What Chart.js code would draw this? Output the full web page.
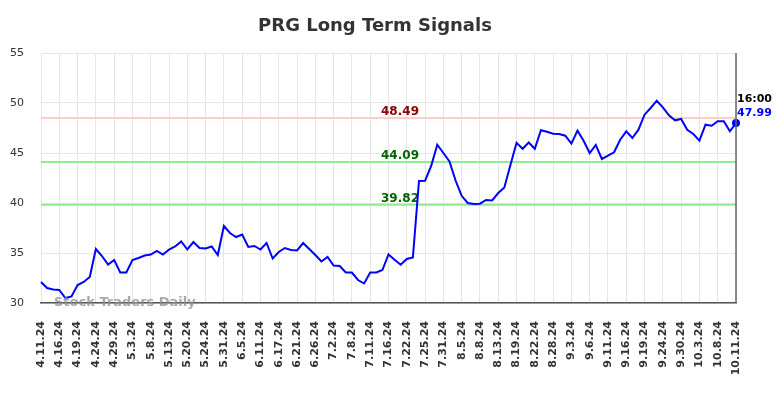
<!DOCTYPE html>
<html>
<head>
<meta charset="utf-8">
<script src="https://cdn.jsdelivr.net/npm/chart.js@4.4.1/dist/chart.umd.min.js"></script>
<style>
	html, body { margin: 0; padding: 0; background: #fff; }
	#chart { display: block; }
</style>
</head>
<body>
<canvas id="chart" width="784" height="398"></canvas>
<script>
// axis labels, one every 3 points
const tickLabels = [
	"4.11.24", "4.16.24", "4.19.24", "4.24.24", "4.29.24", "5.3.24", "5.8.24",
	"5.13.24", "5.20.24", "5.24.24", "5.31.24", "6.5.24", "6.11.24", "6.17.24",
	"6.21.24", "6.26.24", "7.2.24", "7.8.24", "7.11.24", "7.16.24", "7.22.24",
	"7.25.24", "7.31.24", "8.5.24", "8.8.24", "8.13.24", "8.19.24", "8.22.24",
	"8.28.24", "9.3.24", "9.6.24", "9.11.24", "9.16.24", "9.19.24", "9.24.24",
	"9.30.24", "10.3.24", "10.8.24", "10.11.24"
];

const prices = [
	32.1, 31.5, 31.35, 31.3, 30.5, 30.65, 31.8, 32.1, 32.6, 35.4,
	34.7, 33.85, 34.3, 33.05, 33.05, 34.3, 34.5, 34.75, 34.85, 35.2,
	34.85, 35.35, 35.65, 36.15, 35.35, 36.1, 35.5, 35.45, 35.65, 34.8,
	37.7, 37.0, 36.6, 36.85, 35.6, 35.7, 35.35, 36.0, 34.45, 35.1,
	35.5, 35.3, 35.25, 36.0, 35.4, 34.8, 34.15, 34.6, 33.75, 33.7,
	33.05, 33.05, 32.3, 31.95, 33.05, 33.05, 33.3, 34.85, 34.33, 33.83,
	34.4, 34.55, 42.2, 42.23, 43.7, 45.83, 45.0, 44.15, 42.25, 40.72,
	40.0, 39.9, 39.93, 40.3, 40.25, 41.0, 41.55, 43.8, 46.02, 45.42,
	46.05, 45.42, 47.27, 47.13, 46.93, 46.9, 46.73, 45.93, 47.23, 46.23,
	45.0, 45.8, 44.4, 44.73, 45.07, 46.33, 47.17, 46.5, 47.33, 48.83,
	49.5, 50.23, 49.57, 48.77, 48.27, 48.4, 47.33, 46.9, 46.23, 47.83,
	47.73, 48.17, 48.17, 47.17, 47.99
];

const levels = [48.49, 44.09, 39.82];
const lastTime = "16:00";

const levelLineColors = ["#ffcccc", "#90ee90", "#90ee90"];
const levelTextColors = ["#8b0000", "#006400", "#006400"];
const step = 3;
const font = "DejaVu Sans";

const labels = prices.map(function(v, i) {
	return i % step === 0 ? tickLabels[i / step] : "";
});
const last = prices.length - 1;

const extras = {
	id: "extras",
	beforeDatasetsDraw: function(chart) {
		const ctx = chart.ctx;
		const a = chart.chartArea;
		const y = chart.scales.y;
		ctx.save();
		for (var i = 0; i < levels.length; i++) {
			var py = y.getPixelForValue(levels[i]);
			ctx.strokeStyle = levelLineColors[i];
			ctx.lineWidth = 2;
			ctx.beginPath();
			ctx.moveTo(a.left, py);
			ctx.lineTo(a.right, py);
			ctx.stroke();
			ctx.fillStyle = levelTextColors[i];
			ctx.font = "bold 12px " + font;
			ctx.textAlign = "center";
			ctx.textBaseline = "alphabetic";
			ctx.fillText(levels[i].toFixed(2), 400, py - 3);
		}
		ctx.restore();
	},
	afterDraw: function(chart) {
		const ctx = chart.ctx;
		const a = chart.chartArea;
		ctx.save();
		// right border
		ctx.strokeStyle = "#666";
		ctx.lineWidth = 1.5;
		ctx.beginPath();
		ctx.moveTo(a.right, a.top);
		ctx.lineTo(a.right, a.bottom);
		ctx.stroke();

		// title
		ctx.fillStyle = "#333";
		ctx.font = "bold 18px " + font;
		ctx.textAlign = "center";
		ctx.textBaseline = "middle";
		ctx.fillText("PRG Long Term Signals", 375, 26);

		// watermark
		ctx.fillStyle = "rgba(140,140,140,0.75)";
		ctx.font = "bold 13px " + font;
		ctx.textAlign = "left";
		ctx.fillText("Stock Traders Daily", 54, a.bottom);

		// last value
		const pt = chart.getDatasetMeta(0).data[last];
		ctx.font = "bold 11px " + font;
		ctx.fillStyle = "#000";
		ctx.fillText(lastTime, pt.x + 1, pt.y - 24);
		ctx.fillStyle = "#0000ff";
		ctx.fillText(prices[last].toFixed(2), pt.x + 1, pt.y - 10);
		ctx.restore();
	}
};

new Chart(document.getElementById("chart"), {
	type: "line",
	data: {
		labels: labels,
		datasets: [{
			data: prices,
			borderColor: "#0000ff",
			backgroundColor: "#0000ff",
			borderWidth: 2,
			tension: 0,
			pointRadius: function(c) { return c.dataIndex === last ? 4 : 0; },
			pointBackgroundColor: "#0000ff",
			pointBorderWidth: 0
		}]
	},
	options: {
		responsive: false,
		animation: false,
		devicePixelRatio: 1,
		layout: { padding: { top: 53, right: 48, left: 0, bottom: 0 } },
		plugins: {
			legend: { display: false },
			title: { display: false },
			tooltip: { enabled: false }
		},
		scales: {
			x: {
				offset: false,
				afterFit: function(s) { s.height = 95; },
				grid: {
					color: function(c) { return c.index % step === 0 ? "#e6e6e6" : "rgba(0,0,0,0)"; },
					drawTicks: false
				},
				border: { color: "#555", width: 1.5 },
				ticks: {
					autoSkip: false,
					minRotation: 90,
					maxRotation: 90,
					padding: 18,
					color: "#333",
					font: { family: font, size: 11, weight: "bold" }
				}
			},
			y: {
				min: 30,
				max: 55,
				afterFit: function(s) { s.width = 41; },
				grid: { color: "#e6e6e6", drawTicks: false },
				border: { display: false },
				ticks: {
					stepSize: 5,
					padding: 17,
					color: "#333",
					font: { family: font, size: 11 }
				}
			}
		}
	},
	plugins: [extras]
});
</script>
</body>
</html>
